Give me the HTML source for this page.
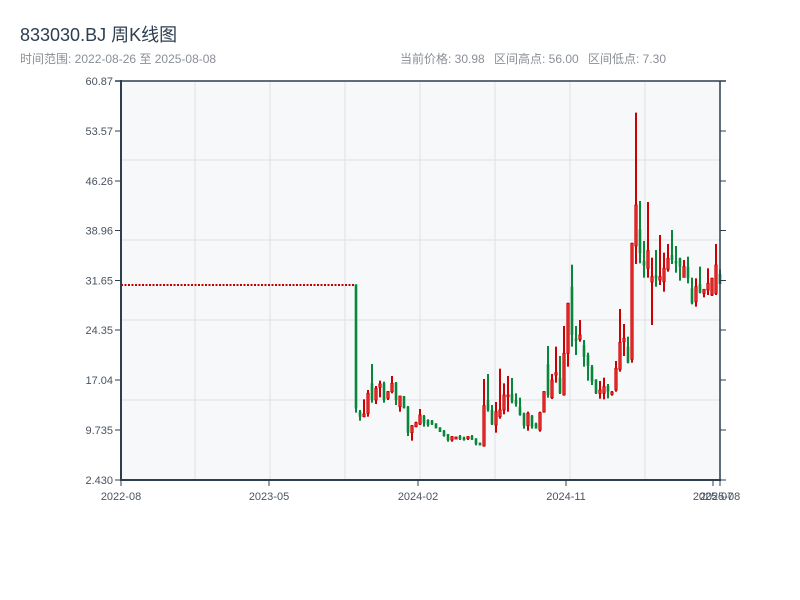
<!DOCTYPE html>
<html><head><meta charset="utf-8">
<style>
body{margin:0;background:#fff;width:800px;height:600px;overflow:hidden;font-family:"Liberation Sans","Noto Sans CJK SC",sans-serif;}
svg{position:absolute;left:0;top:0}
</style></head><body>
<svg id="s" width="800" height="600" xmlns="http://www.w3.org/2000/svg" font-family="Liberation Sans, Noto Sans CJK SC, sans-serif">
<text x="20" y="41" font-size="18" fill="#2c3e50">833030.BJ 周K线图</text>
<text x="20" y="63" font-size="12" fill="#8a8f95">时间范围: 2022-08-26 至 2025-08-08</text>
<text x="400" y="63" font-size="12" fill="#8a8f95">当前价格: 30.98</text>
<text x="494" y="63" font-size="12" fill="#8a8f95">区间高点: 56.00</text>
<text x="588" y="63" font-size="12" fill="#8a8f95">区间低点: 7.30</text>
<rect x="121" y="81" width="599" height="399" fill="#f6f8fa"/>
<g stroke="#dde1e6" stroke-width="1">
<line x1="121" y1="160" x2="720" y2="160"/><line x1="121" y1="240" x2="720" y2="240"/>
<line x1="121" y1="320" x2="720" y2="320"/><line x1="121" y1="400" x2="720" y2="400"/>
<line x1="195" y1="81" x2="195" y2="480"/><line x1="270" y1="81" x2="270" y2="480"/>
<line x1="345" y1="81" x2="345" y2="480"/><line x1="420" y1="81" x2="420" y2="480"/>
<line x1="495" y1="81" x2="495" y2="480"/><line x1="570" y1="81" x2="570" y2="480"/>
<line x1="645" y1="81" x2="645" y2="480"/>
</g>
<line x1="121" y1="285" x2="355" y2="285" stroke="#c00000" stroke-width="2" stroke-dasharray="2,1.5"/>
<g id="c"></g>
<g stroke="#2c3e50" stroke-width="2" fill="none">
<line x1="121" y1="80" x2="121" y2="481"/>
<line x1="120" y1="480" x2="721" y2="480"/>
<line x1="115" y1="81" x2="726" y2="81" stroke-width="1.5"/>
<line x1="720" y1="81" x2="720" y2="481" stroke-width="1.5"/>
</g>
<g id="t" stroke="#2c3e50" stroke-width="1"></g>
<g id="l" font-size="11" fill="#4a5360"></g>
</svg>
<script>
var NS="http://www.w3.org/2000/svg";
function el(p,n,a,txt){var e=document.createElementNS(NS,n);for(var k in a)e.setAttribute(k,a[k]);if(txt!==undefined)e.textContent=txt;p.appendChild(e);return e;}
var z2=[[73,458,73,445,'g'],[450,482,455,470,'g'],[418,472,462,470,'r'],[390,470,400,460,'r'],[312,428,370,420,'g'],[378,432,385,420,'r'],[362,412,372,382,'r'],[365,428,370,420,'g'],[393,420,395,415,'r'],[348,400,370,395,'r'],[366,435,368,420,'g'],[408,455,408,440,'r'],[408,445,408,445,'g'],[438,528,440,518,'g'],[495,542,497,518,'r'],[485,502,488,500,'r'],[447,495,465,492,'r'],[465,500,468,490,'g'],[478,500,480,495,'g'],[480,495,482,493,'g'],[490,505,490,505,'g'],[502,516,502,516,'g'],[510,530,512,528,'g'],[522,545,522,540,'g'],[528,545,530,540,'r'],[530,538,531,537,'r'],[525,540,528,538,'g'],[530,542,532,540,'g'],[528,540,530,536,'r'],[525,540,528,538,'g'],[535,556,535,552,'g'],[548,556,548,556,'g'],[357,560,437,558,'r'],[342,455,420,450,'g'],[435,495,450,493,'g'],[426,518,455,495,'r'],[326,476,450,470,'r'],[370,463,405,450,'r'],[348,455,405,410,'r'],[354,430,402,425,'g'],[400,440,420,432,'g'],[413,467,440,465,'g'],[458,506,460,497,'g'],[455,512,460,497,'r'],[465,506,467,500,'g'],[488,506,490,505,'g']];
var z3=[[935,995,938,990,'r'],[873,938,875,936,'r'],[738,893,793,885,'g'],[822,897,840,893,'r'],[740,848,818,825,'r'],[768,882,833,880,'g'],[678,887,760,885,'r'],[608,800,610,760,'r'],[494,740,560,705,'g'],[678,765,715,722,'g'],[660,725,705,718,'r'],[720,800,735,770,'g'],[758,842,765,798,'g'],[795,855,800,845,'g'],[838,882,838,880,'g'],[843,896,870,880,'r'],[833,898,860,880,'r'],[852,895,858,875,'g'],[873,887,876,883,'r'],[783,875,805,870,'r'],[627,815,727,808,'r'],[672,768,715,725,'r'],[710,790,740,788,'g'],[428,788,430,778,'r'],[38,492,315,438,'r'],[303,490,388,460,'g'],[423,533,483,497,'g'],[306,533,452,505,'r'],[473,675,530,546,'r'],[450,560,525,535,'g'],[405,555,530,540,'r'],[458,575,505,545,'r'],[432,515,475,508,'r'],[390,492,465,480,'g'],[438,518,483,490,'g'],[473,542,475,500,'g'],[480,532,500,532,'r'],[470,550,500,535,'g'],[533,613,565,610,'g'],[535,620,560,605,'r'],[500,580,552,578,'g'],[567,592,568,580,'r'],[505,585,550,570,'r'],[533,588,535,585,'r'],[432,585,495,580,'r'],[508,552,522,552,'g']];
var data=[];z2.forEach(function(d){data.push([260+d[0]/3,260+d[1]/3,260+d[2]/3,260+d[3]/3,d[4]]);});
z3.forEach(function(d){data.push([100+d[0]/3,100+d[1]/3,100+d[2]/3,100+d[3]/3,d[4]]);});
var g=document.getElementById('c');
data.forEach(function(d,i){var x=356+i*4;var col=d[4]=='r'?'#cc0000':'#08873a';
el(g,'line',{x1:x,y1:d[0],x2:x,y2:d[1],stroke:col,'stroke-width':2});
var h=Math.max(1,d[3]-d[2]);
if(d[4]=='r')el(g,'rect',{x:x-1.2,y:d[2],width:2.4,height:h,fill:'#e83030',stroke:'#cc0000','stroke-width':0.8});
else el(g,'rect',{x:x-1.3,y:d[2],width:2.6,height:h,fill:'#08873a'});});
var t=document.getElementById('t'),l=document.getElementById('l');
var yt=[[81,'60.87'],[131,'53.57'],[181,'46.26'],[230.5,'38.96'],[280.5,'31.65'],[330,'24.35'],[380,'17.04'],[430,'9.735'],[480,'2.430']];
yt.forEach(function(v){el(t,'line',{x1:115,y1:v[0],x2:121,y2:v[0]});el(t,'line',{x1:720,y1:v[0],x2:726,y2:v[0]});
el(l,'text',{x:113,y:v[0]+4,'text-anchor':'end'},v[1]);});
var xt=[[121,'2022-08'],[269,'2023-05'],[418,'2024-02'],[566,'2024-11'],[713,'2025-07'],[720,'2025-08']];
xt.forEach(function(v){el(t,'line',{x1:v[0],y1:480,x2:v[0],y2:486});el(l,'text',{x:v[0],y:500,'text-anchor':'middle'},v[1]);});
</script>
</body></html>
